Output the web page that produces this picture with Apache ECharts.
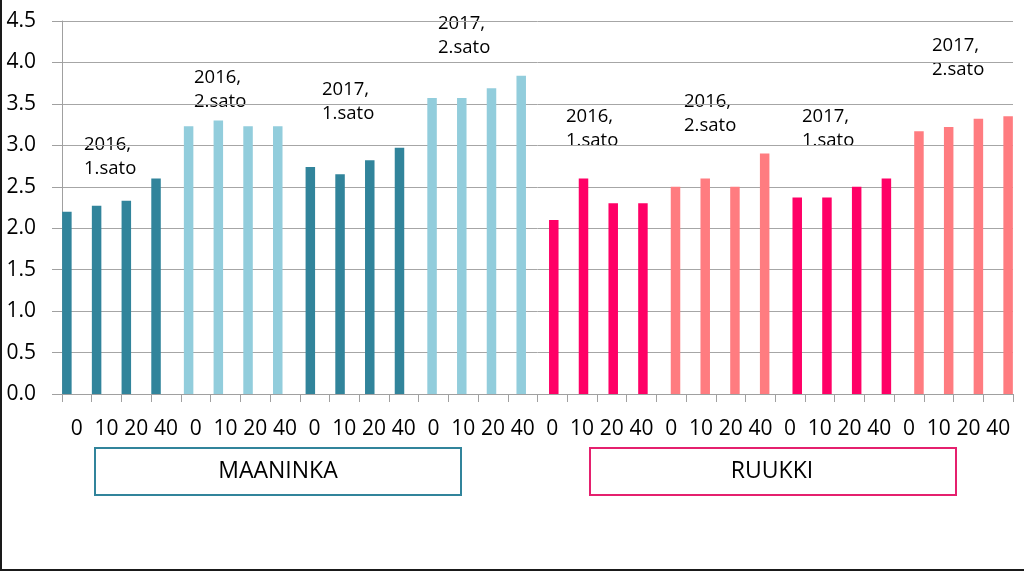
<!DOCTYPE html>
<html>
<head>
<meta charset="utf-8">
<script src="https://cdn.jsdelivr.net/npm/echarts@6/dist/echarts.min.js"></script>
<style>
html,body{margin:0;padding:0;background:#fff;}
#chart{width:1024px;height:571px;}
</style>
</head>
<body>
<div id="chart"></div>
<script>
// ---- data ----
const doses = ['0', '10', '20', '40'];
const groupNames = ['M2016-1', 'M2016-2', 'M2017-1', 'M2017-2', 'R2016-1', 'R2016-2', 'R2017-1', 'R2017-2'];
const maaninka2016_1 = [2.20, 2.27, 2.33, 2.60];
const maaninka2016_2 = [3.23, 3.30, 3.23, 3.23];
const maaninka2017_1 = [2.74, 2.65, 2.82, 2.97];
const maaninka2017_2 = [3.57, 3.57, 3.69, 3.84];
const ruukki2016_1 = [2.10, 2.60, 2.30, 2.30];
const ruukki2016_2 = [2.50, 2.60, 2.50, 2.90];
const ruukki2017_1 = [2.37, 2.37, 2.50, 2.60];
const ruukki2017_2 = [3.17, 3.22, 3.32, 3.35];
const groupLabels = ['2016,\n1.sato', '2016,\n2.sato', '2017,\n1.sato', '2017,\n2.sato',
                     '2016,\n1.sato', '2016,\n2.sato', '2017,\n1.sato', '2017,\n2.sato'];
const siteNames = ['MAANINKA', 'RUUKKI'];
const yTicks = [0, 0.5, 1, 1.5, 2, 2.5, 3, 3.5, 4, 4.5];

// ---- styling ----
const groupValues = [maaninka2016_1, maaninka2016_2, maaninka2017_1, maaninka2017_2,
                     ruukki2016_1, ruukki2016_2, ruukki2017_1, ruukki2017_2];
const groupColors = ['#31849B', '#92CDDC', '#31849B', '#92CDDC', '#FF0066', '#FF7C80', '#FF0066', '#FF7C80'];
const labelPos = [[84, 133], [194, 66], [322, 78], [438, 12], [566, 105], [684, 90], [802, 105], [932, 34]];
const FONT = '"Open Sans", "Liberation Sans", sans-serif';

const categories = [];
groupNames.forEach(g => doses.forEach(d => categories.push(g + '|' + d)));

const series = groupValues.map((vals, gi) => {
  const data = categories.map(() => '-');
  vals.forEach((v, i) => { data[gi * doses.length + i] = v; });
  return {
    type: 'bar',
    name: groupNames[gi],
    data: data,
    barWidth: 9.5,
    barGap: '-70%',
    itemStyle: { color: groupColors[gi] },
    silent: true
  };
});

const graphic = [
  // outer frame (left & bottom)
  { type: 'rect', shape: { x: 0, y: 0, width: 2, height: 571 }, style: { fill: '#1a1a1a' } },
  { type: 'rect', shape: { x: 0, y: 569, width: 1024, height: 2 }, style: { fill: '#1a1a1a' } },
  // site boxes
  { type: 'rect', shape: { x: 95, y: 448, width: 366, height: 47 }, style: { fill: '#fff', stroke: '#31849B', lineWidth: 2 } },
  { type: 'text', x: 278, y: 471, style: { text: siteNames[0], font: '23px ' + FONT, fill: '#000', align: 'center', verticalAlign: 'middle' } },
  { type: 'rect', shape: { x: 590, y: 448, width: 366, height: 47 }, style: { fill: '#fff', stroke: '#E5206E', lineWidth: 2 } },
  { type: 'text', x: 772, y: 471, style: { text: siteNames[1], font: '23px ' + FONT, fill: '#000', align: 'center', verticalAlign: 'middle' } }
];
groupLabels.forEach((t, i) => {
  graphic.push({
    type: 'text', x: labelPos[i][0], y: labelPos[i][1],
    style: { text: t, font: '18.5px ' + FONT, lineHeight: 24, fill: '#000', align: 'left', verticalAlign: 'top' }
  });
});

const chart = echarts.init(document.getElementById('chart'), null, { renderer: 'canvas' });
chart.setOption({
  animation: false,
  backgroundColor: '#ffffff',
  grid: { left: 62, right: 11, top: 21, bottom: 177, containLabel: false },
  xAxis: {
    type: 'category',
    data: categories,
    boundaryGap: true,
    axisLine: { show: true, lineStyle: { color: '#A0A0A0', width: 1 } },
    axisTick: { show: true, length: 8, lineStyle: { color: '#A0A0A0' } },
    axisLabel: {
      interval: 0, margin: 25, color: '#000', fontSize: 21, fontFamily: FONT,
      formatter: v => v.split('|')[1]
    },
    splitLine: { show: false }
  },
  yAxis: {
    type: 'value',
    min: yTicks[0], max: yTicks[yTicks.length - 1], interval: 0.5,
    axisLine: { show: true, lineStyle: { color: '#A0A0A0', width: 1 } },
    axisTick: { show: true, length: 10, lineStyle: { color: '#A0A0A0' } },
    axisLabel: { margin: 26, color: '#000', fontSize: 21, fontFamily: FONT, formatter: v => v.toFixed(1) },
    splitLine: { show: true, lineStyle: { color: '#A6A6A6', width: 1 } }
  },
  series: series,
  graphic: graphic
});
</script>
</body>
</html>
